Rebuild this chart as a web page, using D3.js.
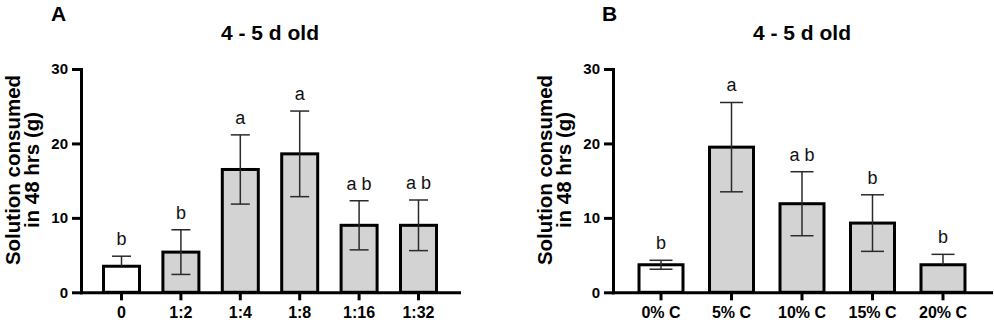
<!DOCTYPE html>
<html><head><meta charset="utf-8">
<script src="https://cdn.jsdelivr.net/npm/d3@7"></script>
<style>
body{margin:0;background:#fff;}
svg{display:block;font-family:"Liberation Sans",Arial,sans-serif;}
</style></head>
<body>
<svg id="c" width="994" height="322"></svg>
<script>
// Panel A data
const catsA = ["0","1:2","1:4","1:8","1:16","1:32"];
const meansA = [3.5, 5.4, 16.5, 18.6, 9.0, 9.0];
const errUpA = [1.35, 3.0, 4.65, 5.75, 3.3, 3.4];
const errLoA = [0, 3.0, 4.65, 5.75, 3.3, 3.4];
const lettersA = ["b","b","a","a","a b","a b"];
const fillsA = ["white","gray","gray","gray","gray","gray"];
// Panel B data
const catsB = ["0% C","5% C","10% C","15% C","20% C"];
const meansB = [3.7, 19.5, 11.9, 9.3, 3.7];
const errUpB = [0.6, 6.0, 4.3, 3.8, 1.4];
const errLoB = [0.6, 6.0, 4.3, 3.8, 0];
const lettersB = ["b","a","a b","b","b"];
const fillsB = ["white","gray","gray","gray","gray"];
const yTicks = [0,10,20,30];
const titleText = "4 - 5 d old";
const yLabel = ["Solution consumed","in 48 hrs (g)"];

const svg = d3.select("#c");
const fillColor = {white:"#ffffff", gray:"#d3d3d3"};

function panel(opt){
  const g = svg.append("g");
  const y = d3.scaleLinear().domain([0,30]).range([292.3,69]);
  const x = d3.scaleBand().domain(opt.cats).range([opt.x0, opt.x0+378])
    .paddingInner(opt.pi).paddingOuter(opt.po);
  const bw = x.bandwidth();
  const data = opt.cats.map((c,i)=>({c, m:opt.means[i], up:opt.up[i], lo:opt.lo[i], l:opt.letters[i], f:opt.fills[i]}));

  // bars
  g.selectAll("rect.bar").data(data).join("rect")
    .attr("x", d=>x(d.c)).attr("width", bw)
    .attr("y", d=>y(d.m)).attr("height", d=>y(0)-y(d.m))
    .attr("fill", d=>fillColor[d.f]).attr("stroke","#000").attr("stroke-width",3);

  // error bars
  const cap = bw*0.5+1;
  const eg = g.selectAll("g.err").data(data).join("g")
    .attr("transform", d=>`translate(${x(d.c)+bw/2},0)`)
    .attr("stroke","#2a2a2a").attr("stroke-width",1.5);
  eg.append("line").attr("x1",0).attr("x2",0)
    .attr("y1", d=>y(d.m+d.up)).attr("y2", d=>y(d.m));
  eg.append("line").attr("x1",-cap/2).attr("x2",cap/2)
    .attr("y1", d=>y(d.m+d.up)).attr("y2", d=>y(d.m+d.up));
  eg.filter(d=>d.lo>0).append("line").attr("x1",0).attr("x2",0)
    .attr("y1", d=>y(d.m)).attr("y2", d=>y(d.m-d.lo));
  eg.filter(d=>d.lo>0).append("line").attr("x1",-cap/2).attr("x2",cap/2)
    .attr("y1", d=>y(d.m-d.lo)).attr("y2", d=>y(d.m-d.lo));

  // letters
  g.selectAll("text.lt").data(data).join("text")
    .attr("x", d=>x(d.c)+bw/2).attr("y", d=>y(d.m+d.up)-11)
    .attr("text-anchor","middle").attr("font-size",18).attr("fill","#111")
    .style("white-space","pre")
    .text(d=>d.l);

  // axes
  const ya = g.append("g").attr("transform",`translate(${opt.x0},0)`)
    .call(d3.axisLeft(y).tickValues(yTicks).tickSize(9).tickSizeOuter(0).tickPadding(4));
  const xa = g.append("g").attr("transform",`translate(0,${y(0)})`)
    .call(d3.axisBottom(x).tickSize(8).tickSizeOuter(0).tickPadding(6));
  [ya,xa].forEach(a=>{
    a.select(".domain").attr("stroke","#000").attr("stroke-width",3).attr("stroke-linecap","square");
    a.selectAll(".tick line").attr("stroke","#000").attr("stroke-width",3);
    a.selectAll(".tick text").attr("fill","#000").attr("font-weight","bold")
      .attr("font-family",'"Liberation Sans",Arial,sans-serif');
  });
  ya.selectAll(".tick text").attr("font-size",15);
  xa.selectAll(".tick text").attr("font-size",16);

  // y label (two centred lines)
  const lab = g.append("text")
    .attr("transform",`translate(${opt.x0-61},170) rotate(-90)`)
    .attr("text-anchor","middle").attr("font-size",20.5).attr("font-weight","bold")
    .attr("fill","#000");
  yLabel.forEach((t,i)=>{
    lab.append("tspan").attr("x",0).attr("y", i*19).attr("text-anchor","middle").text(t);
  });
  // title
  g.append("text").attr("x", opt.x0+189).attr("y",40)
    .attr("text-anchor","middle").attr("font-size",21).attr("font-weight","bold")
    .attr("fill","#000").text(titleText);
  // panel letter
  g.append("text").attr("x", opt.lx).attr("y",21)
    .attr("font-size",21).attr("font-weight","bold").attr("fill","#000").text(opt.letter);
}

panel({cats:catsA, means:meansA, up:errUpA, lo:errLoA, letters:lettersA, fills:fillsA,
  x0:81, pi:0.394, po:0.379, lx:51, letter:"A"});
panel({cats:catsB, means:meansB, up:errUpB, lo:errLoB, letters:lettersB, fills:fillsB,
  x0:613, pi:0.376, po:0.369, lx:602, letter:"B"});
</script>
</body></html>
